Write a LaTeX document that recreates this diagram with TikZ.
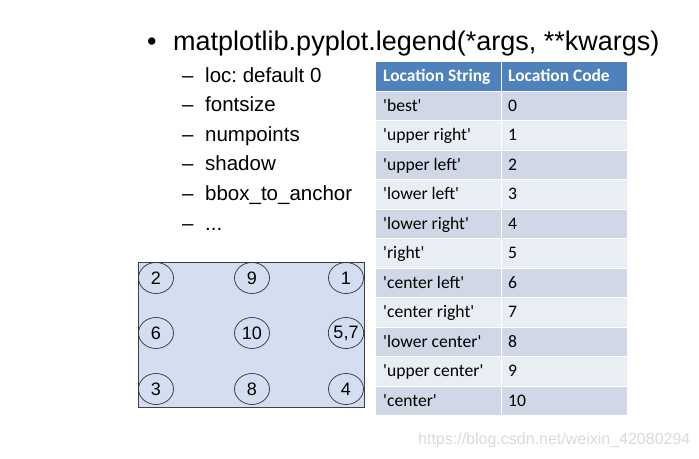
\documentclass[tikz,border=0pt]{standalone}
\usepackage{fontspec}
\setmainfont{Liberation Sans}
\newfontfamily\calib{Carlito}
\usetikzlibrary{shapes.geometric}
\frenchspacing
\definecolor{hdrblue}{HTML}{4F81BD}
\definecolor{rowdark}{HTML}{D0D8E8}
\definecolor{rowlight}{HTML}{E9EDF4}
\definecolor{boxfill}{HTML}{D3DEF1}
\definecolor{wmgray}{HTML}{DADADA}
\tikzset{
  item/.style={anchor=base west, inner sep=0pt, font=\fontsize{20.5}{24}\selectfont},
  cell/.style={anchor=north west, draw=white, line width=1pt, minimum width=126pt, minimum height=29.5pt, inner sep=0pt},
  celltext/.style={anchor=base west, inner sep=0pt, font=\calib\fontsize{17.6}{20}\selectfont},
  hdrtext/.style={celltext, text=white, font=\calib\bfseries\fontsize{17.4}{20}\selectfont},
  loccircle/.style={ellipse, draw=black!80, line width=0.7pt, minimum width=35pt, minimum height=31pt, inner sep=0pt, font=\fontsize{18}{20}\selectfont},
}
\begin{document}
\begin{tikzpicture}[x=1pt,y=-1pt]
\useasboundingbox (0,0) rectangle (699,458);
% heading
\node[anchor=base west, inner sep=0pt, font=\fontsize{27}{30}\selectfont] (bul) at (147,50) {•};
\node[anchor=base west, inner sep=0pt, font=\fontsize{27}{30}\selectfont] (head) at (173,50) {matplotlib.pyplot.legend(*args, **kwargs)};
% sub items
\node[item] (d0) at (182,82) {–};
\node[item] (s0) at (205,82) {loc: default 0};
\node[item] (d1) at (182,111.6) {–};
\node[item] (s1) at (205,111.6) {fontsize};
\node[item] (d2) at (182,141.2) {–};
\node[item] (s2) at (205,141.2) {numpoints};
\node[item] (d3) at (182,170.8) {–};
\node[item] (s3) at (205,170.8) {shadow};
\node[item] (d4) at (182,200.4) {–};
\node[item] (s4) at (205,200.4) {bbox\_to\_anchor};
\node[item] (d5) at (182,230) {–};
\node[item] (s5) at (205,230) {...};
% table header
\node[cell, fill=hdrblue] (h1) at (375,61) {};
\node[cell, fill=hdrblue] (h2) at (501,61) {};
\node[hdrtext] (h1t) at (383,81.5) {Location String};
\node[hdrtext] (h2t) at (508,81.5) {Location Code};
% table rows
\foreach \s/\c [count=\i from 1] in {'best'/0, 'upper right'/1, 'upper left'/2, 'lower left'/3, 'lower right'/4, 'right'/5, 'center left'/6, 'center right'/7, 'lower center'/8, 'upper center'/9, 'center'/10}{
  \pgfmathtruncatemacro{\odd}{mod(\i,2)}
  \ifnum\odd=1 \def\rc{rowdark}\else\def\rc{rowlight}\fi
  \node[cell, fill=\rc] (a\i) at (375,{61+29.5*\i}) {};
  \node[cell, fill=\rc] (b\i) at (501,{61+29.5*\i}) {};
  \node[celltext] (at\i) at (383,{81.5+29.5*\i}) {\s};
  \node[celltext] (bt\i) at (508,{81.5+29.5*\i}) {\c};
}
% location box
\node[draw=black!75, fill=boxfill, line width=0.6pt, anchor=north west, minimum width=226pt, minimum height=145pt, inner sep=0pt] (box) at (138,262) {};
\node[loccircle] (c2) at (156,278) {2};
\node[loccircle] (c9) at (252,278) {9};
\node[loccircle] (c1) at (346,278) {1};
\node[loccircle] (c6) at (156,333) {6};
\node[loccircle] (c10) at (252,333) {10};
\node[loccircle] (c57) at (346,333) {5,7};
\node[loccircle] (c3) at (156,389) {3};
\node[loccircle] (c8) at (252,389) {8};
\node[loccircle] (c4) at (346,389) {4};
% watermark
\node[anchor=base west, inner sep=0pt, text=wmgray, font=\fontsize{16}{18}\selectfont] (wm) at (418,444) {https://blog.csdn.net/weixin\_42080294};
\end{tikzpicture}
\end{document}
